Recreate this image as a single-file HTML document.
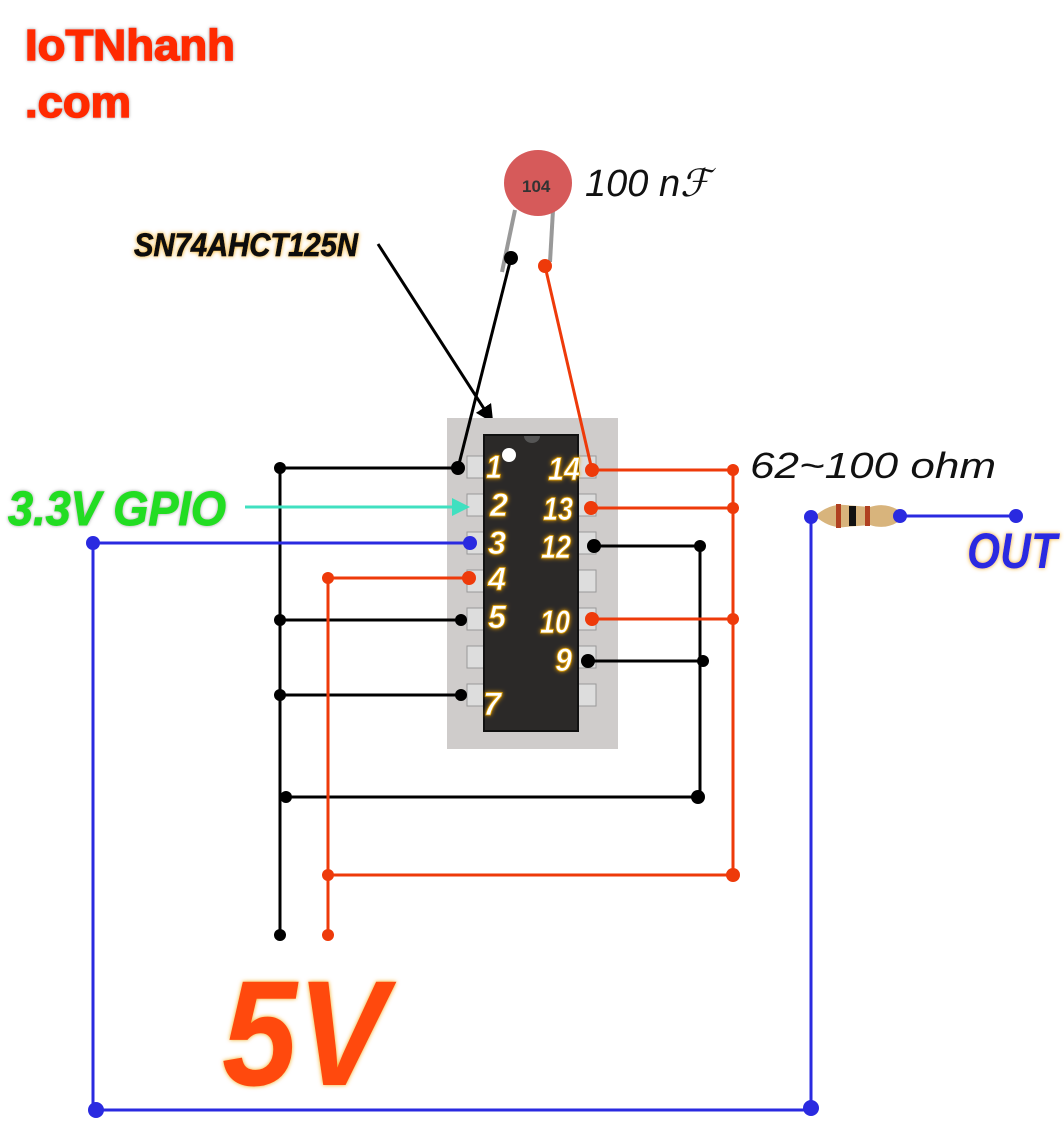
<!DOCTYPE html>
<html><head><meta charset="utf-8"><style>
html,body{margin:0;padding:0;background:#fff;width:1064px;height:1124px;overflow:hidden}
svg{display:block}
text{font-family:"Liberation Sans",sans-serif}
</style></head><body>
<svg width="1064" height="1124" viewBox="0 0 1064 1124" xmlns="http://www.w3.org/2000/svg">
<defs>
<filter id="glow" x="-20%" y="-20%" width="140%" height="140%"><feDropShadow dx="0" dy="0" stdDeviation="2" flood-color="#f0a000" flood-opacity="0.9"/></filter>
<filter id="wsh" x="-20%" y="-20%" width="140%" height="140%"><feDropShadow dx="0" dy="0" stdDeviation="1.5" flood-color="#888" flood-opacity="0.8"/></filter>
<marker id="ah" markerWidth="6" markerHeight="6" refX="4" refY="3" orient="auto"><path d="M0,0 L6,3 L0,6 z" fill="#000"/></marker>
<marker id="ahc" markerWidth="6" markerHeight="6" refX="4" refY="3" orient="auto"><path d="M0,0 L6,3 L0,6 z" fill="#40e0c0"/></marker>
</defs>
<!-- logo -->
<text x="25" y="60" font-size="44" font-weight="bold" fill="#ff2a00" stroke="#ff2a00" stroke-width="1.5" filter="url(#wsh)" textLength="210" lengthAdjust="spacingAndGlyphs">IoTNhanh</text>
<text x="25" y="117" font-size="44" font-weight="bold" fill="#ff2a00" stroke="#ff2a00" stroke-width="1.5" filter="url(#wsh)" textLength="106" lengthAdjust="spacingAndGlyphs">.com</text>
<!-- chip label -->
<text x="134" y="256" font-size="32" font-weight="bold" font-style="italic" fill="#111" stroke="#111" stroke-width="0.8" filter="url(#glow)" textLength="224" lengthAdjust="spacingAndGlyphs">SN74AHCT125N</text>
<line x1="378" y1="244" x2="490" y2="418" stroke="#000" stroke-width="3" marker-end="url(#ah)"/>
<!-- capacitor -->
<line x1="515" y1="210" x2="502" y2="272" stroke="#999" stroke-width="4"/>
<line x1="553" y1="210" x2="550" y2="262" stroke="#999" stroke-width="4"/>
<ellipse cx="538" cy="183" rx="34" ry="33" fill="#d65a5a"/>
<text x="522" y="192" font-size="17" fill="#333" font-family="Liberation Mono" font-weight="bold">104</text>
<text x="585" y="196" font-size="38" font-style="italic" fill="#111" font-family="Liberation Serif">100 nℱ</text>
<!-- chip -->
<rect x="447" y="418" width="171" height="331" fill="#cfcccb"/>
<g fill="#ddd" stroke="#999" stroke-width="1">
<rect x="467" y="456" width="20" height="22"/><rect x="467" y="494" width="20" height="22"/><rect x="467" y="532" width="20" height="22"/><rect x="467" y="570" width="20" height="22"/><rect x="467" y="608" width="20" height="22"/><rect x="467" y="646" width="20" height="22"/><rect x="467" y="684" width="20" height="22"/>
<rect x="576" y="456" width="20" height="22"/><rect x="576" y="494" width="20" height="22"/><rect x="576" y="532" width="20" height="22"/><rect x="576" y="570" width="20" height="22"/><rect x="576" y="608" width="20" height="22"/><rect x="576" y="646" width="20" height="22"/><rect x="576" y="684" width="20" height="22"/>
</g>
<rect x="484" y="435" width="94" height="296" fill="#2b2928" stroke="#111" stroke-width="2"/>
<circle cx="509" cy="455" r="7" fill="#fff"/>
<path d="M524,436 a8,7 0 0 0 16,0" fill="#555"/>
<g font-size="32" font-weight="bold" font-style="italic" fill="#fff" stroke="#e0a000" stroke-width="0.8" filter="url(#glow)">
<text x="486" y="478" textLength="16" lengthAdjust="spacingAndGlyphs">1</text><text x="490" y="516" textLength="18" lengthAdjust="spacingAndGlyphs">2</text><text x="488" y="554" textLength="18" lengthAdjust="spacingAndGlyphs">3</text><text x="488" y="590" textLength="18" lengthAdjust="spacingAndGlyphs">4</text><text x="488" y="628" textLength="18" lengthAdjust="spacingAndGlyphs">5</text><text x="483" y="715" textLength="18" lengthAdjust="spacingAndGlyphs">7</text>
<text x="548" y="480" textLength="32" lengthAdjust="spacingAndGlyphs">14</text><text x="543" y="520" textLength="30" lengthAdjust="spacingAndGlyphs">13</text><text x="541" y="558" textLength="30" lengthAdjust="spacingAndGlyphs">12</text><text x="540" y="633" textLength="30" lengthAdjust="spacingAndGlyphs">10</text><text x="555" y="671" textLength="17" lengthAdjust="spacingAndGlyphs">9</text>
</g>
<!-- black wires -->
<g stroke="#000" stroke-width="3" fill="none">
<line x1="511" y1="258" x2="458" y2="468"/>
<line x1="280" y1="468" x2="280" y2="935"/>
<line x1="280" y1="468" x2="460" y2="468"/>
<line x1="280" y1="620" x2="461" y2="620"/>
<line x1="280" y1="695" x2="461" y2="695"/>
<line x1="286" y1="797" x2="698" y2="797"/>
<line x1="700" y1="546" x2="700" y2="797"/>
<line x1="594" y1="546" x2="700" y2="546"/>
<line x1="588" y1="661" x2="703" y2="661"/>
</g>
<g fill="#000">
<circle cx="511" cy="258" r="7"/><circle cx="458" cy="468" r="7"/><circle cx="280" cy="468" r="6"/><circle cx="280" cy="620" r="6"/><circle cx="461" cy="620" r="6"/><circle cx="280" cy="695" r="6"/><circle cx="461" cy="695" r="6"/><circle cx="286" cy="797" r="6"/><circle cx="698" cy="797" r="7"/><circle cx="594" cy="546" r="7"/><circle cx="700" cy="546" r="6"/><circle cx="588" cy="661" r="7"/><circle cx="703" cy="661" r="6"/><circle cx="280" cy="935" r="6"/>
</g>
<!-- red wires -->
<g stroke="#ee3a0a" stroke-width="3" fill="none">
<line x1="545" y1="266" x2="592" y2="470"/>
<line x1="592" y1="470" x2="733" y2="470"/>
<line x1="733" y1="470" x2="733" y2="875"/>
<line x1="591" y1="508" x2="733" y2="508"/>
<line x1="592" y1="619" x2="733" y2="619"/>
<line x1="328" y1="875" x2="733" y2="875"/>
<line x1="328" y1="578" x2="328" y2="935"/>
<line x1="328" y1="578" x2="469" y2="578"/>
</g>
<g fill="#ee3a0a">
<circle cx="545" cy="266" r="7"/><circle cx="592" cy="470" r="7"/><circle cx="733" cy="470" r="6"/><circle cx="591" cy="508" r="7"/><circle cx="733" cy="508" r="6"/><circle cx="592" cy="619" r="7"/><circle cx="733" cy="619" r="6"/><circle cx="733" cy="875" r="7"/><circle cx="328" cy="875" r="6"/><circle cx="328" cy="578" r="6"/><circle cx="469" cy="578" r="7"/><circle cx="328" cy="935" r="6"/>
</g>
<!-- blue wires -->
<g stroke="#2a2ae0" stroke-width="3" fill="none">
<line x1="93" y1="543" x2="470" y2="543"/>
<line x1="93" y1="543" x2="93" y2="1110"/>
<line x1="93" y1="1110" x2="811" y2="1110"/>
<line x1="811" y1="516" x2="811" y2="1110"/>
<line x1="900" y1="516" x2="1016" y2="516"/>
</g>
<!-- resistor -->
<path d="M815,516 Q830,503 845,505 L870,507 Q885,502 898,510 Q902,516 898,522 Q885,530 870,525 L845,527 Q830,529 815,516 z" fill="#d8b47c"/>
<rect x="836" y="504" width="5" height="24" fill="#b04020"/>
<rect x="849" y="506" width="7" height="20" fill="#111"/>
<rect x="865" y="506" width="5" height="20" fill="#b04020"/>
<g fill="#2a2ae0">
<circle cx="93" cy="543" r="7"/><circle cx="470" cy="543" r="7"/><circle cx="96" cy="1110" r="8"/><circle cx="811" cy="1108" r="8"/><circle cx="811" cy="517" r="7"/><circle cx="900" cy="516" r="7"/><circle cx="1016" cy="516" r="7"/>
</g>
<!-- GPIO arrow -->
<line x1="245" y1="507" x2="464" y2="507" stroke="#40e0c0" stroke-width="3" marker-end="url(#ahc)"/>
<text x="8" y="525" font-size="48" font-weight="bold" font-style="italic" fill="#22dd22" stroke="#22dd22" stroke-width="1" filter="url(#wsh)" textLength="218" lengthAdjust="spacingAndGlyphs">3.3V GPIO</text>
<text x="750" y="478" font-size="36" font-style="italic" fill="#111" font-family="Liberation Serif" textLength="246" lengthAdjust="spacingAndGlyphs">62~100 ohm</text>
<text x="967" y="568" font-size="50" font-weight="bold" font-style="italic" fill="#2a2ae0" filter="url(#glow)" textLength="90" lengthAdjust="spacingAndGlyphs">OUT</text>
<text x="222" y="1085" font-size="150" font-weight="bold" font-style="italic" fill="#ff4a10" filter="url(#glow)" textLength="165" lengthAdjust="spacingAndGlyphs">5V</text>
</svg>
</body></html>
